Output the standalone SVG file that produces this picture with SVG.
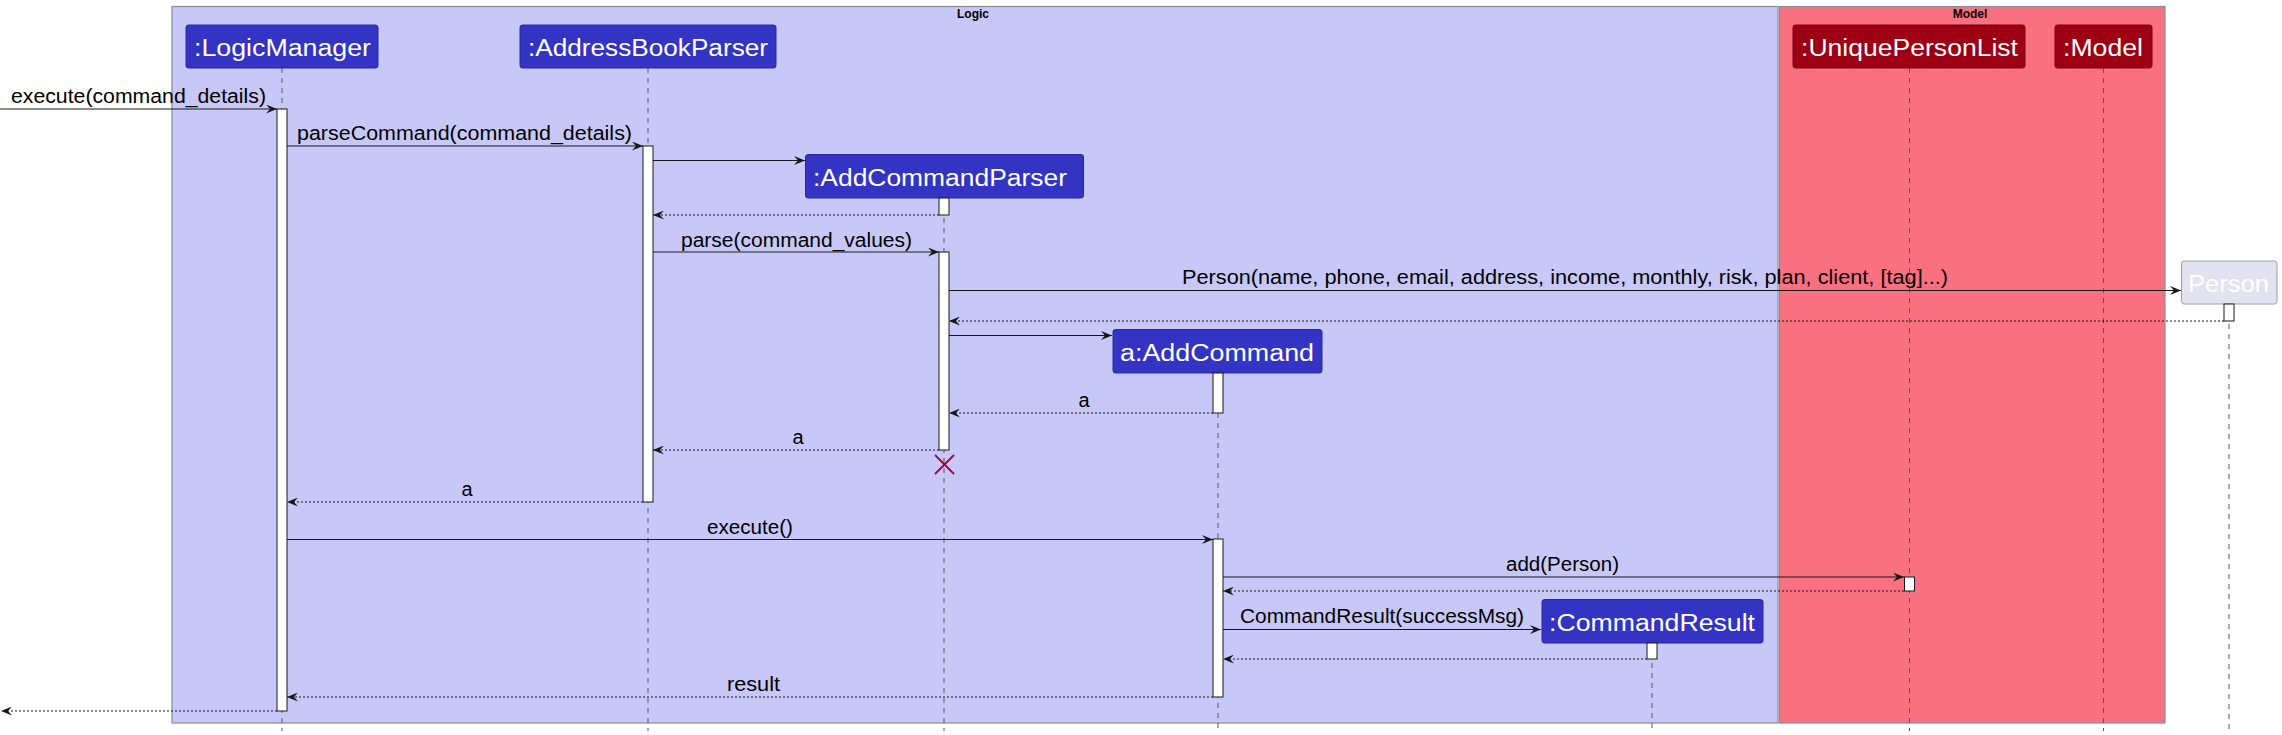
<svg xmlns="http://www.w3.org/2000/svg" width="2282" height="735" viewBox="0 0 2282 735">
<style>
.bg{fill:#ffffff}
.frame{stroke:#8a8a99;stroke-width:1.2}
.ftitle{font-family:"Liberation Sans",Arial,sans-serif;font-size:12px;font-weight:bold;fill:#000;text-anchor:middle}
.pl{fill:#3333C4;stroke:#28289a;stroke-width:1}
.pm{fill:#9D0012;stroke:#7a000e;stroke-width:1}
.pp{fill:#E2E2F0;stroke:#a0a0a8;stroke-width:1}
.pt{font-family:"Liberation Sans",Arial,sans-serif;font-size:23px;fill:#ffffff}
.life{stroke:#555555;stroke-width:1;stroke-dasharray:5,5;fill:none}
.act{fill:#ffffff;stroke:#181818;stroke-width:1}
.msg{stroke:#181818;stroke-width:1.2;fill:none;marker-end:url(#ah)}
.ret{stroke:#181818;stroke-width:1;stroke-dasharray:2,2;fill:none;marker-end:url(#ah)}
.mt{font-family:"Liberation Sans",Arial,sans-serif;font-size:20px;fill:#000000}
.x{stroke:#A80036;stroke-width:1.8}
</style>
<defs>
<marker id="ah" viewBox="0 0 11 9" refX="11" refY="4.5" markerWidth="11" markerHeight="9" markerUnits="userSpaceOnUse" orient="auto">
<path d="M0,0 L11,4.5 L0,9 L4,4.5 Z" fill="#181818"/>
</marker>
</defs>
<rect class="bg" x="0" y="0" width="2282" height="735"/>

<g id="frame-logic">
<rect class="frame" x="172" y="6.5" width="1606" height="716.5" fill="#C8C8F8"/>
<text class="ftitle" x="973" y="18">Logic</text>
</g>
<g id="frame-model">
<rect class="frame" x="1779.5" y="6.5" width="385.5" height="716.5" fill="#F97181"/>
<text class="ftitle" x="1970" y="18">Model</text>
</g>

<g id="lifelines">
<line class="life" x1="282" y1="68" x2="282" y2="731"/>
<line class="life" x1="648" y1="68" x2="648" y2="731"/>
<line class="life" x1="944" y1="198" x2="944" y2="731"/>
<line class="life" x1="1218" y1="373" x2="1218" y2="731"/>
<line class="life" x1="1652" y1="643" x2="1652" y2="731"/>
<line class="life" x1="1909.5" y1="68" x2="1909.5" y2="731"/>
<line class="life" x1="2103.5" y1="68" x2="2103.5" y2="731"/>
<line class="life" x1="2229" y1="304" x2="2229" y2="731"/>
</g>

<g id="LogicManager">
<rect class="pl" x="186" y="25" width="192" height="43" rx="2.5"/>
<text class="pt" x="194" y="55.5" textLength="177" lengthAdjust="spacingAndGlyphs">:LogicManager</text>
<rect class="act" x="277" y="109" width="10" height="602"/>
</g>
<g id="AddressBookParser">
<rect class="pl" x="520" y="25" width="256" height="43" rx="2.5"/>
<text class="pt" x="528" y="55.5" textLength="240" lengthAdjust="spacingAndGlyphs">:AddressBookParser</text>
<rect class="act" x="643" y="146" width="10" height="356"/>
</g>
<g id="AddCommandParser">
<rect class="pl" x="805.5" y="154.5" width="278" height="43.5" rx="2.5"/>
<text class="pt" x="813" y="185.5" textLength="254" lengthAdjust="spacingAndGlyphs">:AddCommandParser</text>
<rect class="act" x="939" y="198" width="10" height="17"/>
<rect class="act" x="939" y="252" width="10" height="198"/>
<line class="x" x1="935" y1="455" x2="954" y2="474"/>
<line class="x" x1="954" y1="455" x2="935" y2="474"/>
</g>
<g id="AddCommand">
<rect class="pl" x="1113" y="329.5" width="209" height="43.5" rx="2.5"/>
<text class="pt" x="1120" y="360.5" textLength="194" lengthAdjust="spacingAndGlyphs">a:AddCommand</text>
<rect class="act" x="1213" y="373" width="10" height="40"/>
<rect class="act" x="1213" y="539" width="10" height="158"/>
</g>
<g id="CommandResult">
<rect class="pl" x="1542" y="599.5" width="221" height="43.5" rx="2.5"/>
<text class="pt" x="1549" y="630.5" textLength="206" lengthAdjust="spacingAndGlyphs">:CommandResult</text>
<rect class="act" x="1647" y="643" width="10" height="16"/>
</g>
<g id="UniquePersonList">
<rect class="pm" x="1793" y="25" width="232" height="43" rx="2.5"/>
<text class="pt" x="1801" y="55.5" textLength="217" lengthAdjust="spacingAndGlyphs">:UniquePersonList</text>
<rect class="act" x="1904.5" y="577" width="10" height="14"/>
</g>
<g id="Model">
<rect class="pm" x="2055" y="25" width="97" height="43" rx="2.5"/>
<text class="pt" x="2063" y="55.5" textLength="80" lengthAdjust="spacingAndGlyphs">:Model</text>
</g>
<g id="Person">
<rect class="pp" x="2181.5" y="261" width="95.5" height="43" rx="2.5"/>
<text class="pt" x="2188" y="291.5" textLength="81" lengthAdjust="spacingAndGlyphs">Person</text>
<rect class="act" x="2224" y="304" width="10" height="17"/>
</g>

<g id="connectors">
<line class="msg" x1="0" y1="109" x2="277" y2="109"/>
<text class="mt" x="11" y="103" textLength="255" lengthAdjust="spacingAndGlyphs">execute(command_details)</text>
<line class="msg" x1="287" y1="146" x2="643" y2="146"/>
<text class="mt" x="297" y="140" textLength="335" lengthAdjust="spacingAndGlyphs">parseCommand(command_details)</text>
<line class="msg" x1="653" y1="160.5" x2="805" y2="160.5"/>
<line class="ret" x1="939" y1="215" x2="653" y2="215"/>
<line class="msg" x1="653" y1="252" x2="939" y2="252"/>
<text class="mt" x="681" y="247" textLength="231" lengthAdjust="spacingAndGlyphs">parse(command_values)</text>
<line class="msg" x1="949" y1="290.5" x2="2181" y2="290.5"/>
<text class="mt" x="1182" y="284" textLength="766" lengthAdjust="spacingAndGlyphs">Person(name, phone, email, address, income, monthly, risk, plan, client, [tag]...)</text>
<line class="ret" x1="2224" y1="321" x2="949" y2="321"/>
<line class="msg" x1="949" y1="335.5" x2="1112" y2="335.5"/>
<line class="ret" x1="1213" y1="413" x2="949" y2="413"/>
<text class="mt" x="1084" y="407" text-anchor="middle">a</text>
<line class="ret" x1="939" y1="450" x2="653" y2="450"/>
<text class="mt" x="798" y="444" text-anchor="middle">a</text>
<line class="ret" x1="643" y1="502" x2="287" y2="502"/>
<text class="mt" x="467" y="496" text-anchor="middle">a</text>
<line class="msg" x1="287" y1="539.5" x2="1213" y2="539.5"/>
<text class="mt" x="707" y="534" textLength="86" lengthAdjust="spacingAndGlyphs">execute()</text>
<line class="msg" x1="1223" y1="577" x2="1904" y2="577"/>
<text class="mt" x="1506" y="571" textLength="113" lengthAdjust="spacingAndGlyphs">add(Person)</text>
<line class="ret" x1="1904" y1="591" x2="1223" y2="591"/>
<line class="msg" x1="1223" y1="629.5" x2="1541" y2="629.5"/>
<text class="mt" x="1240" y="623" textLength="284" lengthAdjust="spacingAndGlyphs">CommandResult(successMsg)</text>
<line class="ret" x1="1647" y1="659" x2="1223" y2="659"/>
<line class="ret" x1="1213" y1="697" x2="287" y2="697"/>
<text class="mt" x="727" y="691" textLength="53" lengthAdjust="spacingAndGlyphs">result</text>
<line class="ret" x1="277" y1="711" x2="1" y2="711"/>
</g>
</svg>
